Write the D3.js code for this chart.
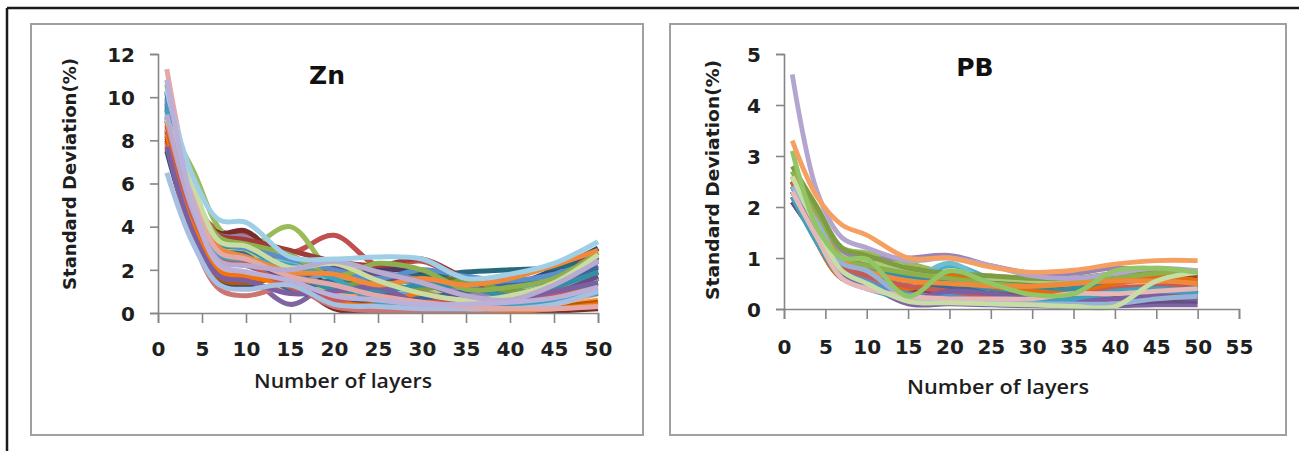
<!DOCTYPE html>
<html>
<head>
<meta charset="utf-8">
<script src="https://cdn.jsdelivr.net/npm/d3@7"></script>
<style>
  body { margin: 0; background: #fff; }
  svg { display: block; }
</style>
</head>
<body>
<svg id="chart" width="1299" height="451"></svg>
<script>
// layers where each run was sampled
const layers = [1, 4, 7, 10, 15, 20, 25, 30, 35, 40, 45, 50]

// Zn standard deviation (%) per run
const znSeries = [
  [10.3, 5.0, 2.2, 1.8, 1.3, 1.0, 0.8, 1.0, 0.7, 0.9, 1.6, 2.4],
  [7.8, 5.0, 3.8, 3.6, 2.8, 3.6, 2.2, 2.4, 1.5, 1.1, 1.7, 3.0],
  [8.8, 6.6, 3.9, 3.0, 4.0, 1.8, 1.3, 1.0, 0.7, 0.6, 0.9, 1.4],
  [8.5, 4.2, 2.0, 1.8, 0.4, 1.4, 0.7, 0.5, 0.3, 0.2, 0.5, 1.6],
  [9.0, 4.8, 3.1, 2.9, 2.0, 1.2, 1.6, 1.3, 0.8, 1.0, 1.5, 2.0],
  [7.6, 4.0, 1.8, 1.6, 1.8, 0.8, 0.5, 0.7, 0.4, 0.2, 0.3, 0.6],
  [7.5, 3.6, 1.4, 1.3, 1.0, 0.7, 0.5, 0.6, 0.5, 1.2, 2.0, 3.0],
  [8.2, 4.8, 3.7, 3.8, 1.8, 0.2, 0.1, 0.1, 0.1, 0.1, 0.1, 0.2],
  [9.5, 5.2, 3.4, 3.3, 2.2, 1.4, 1.5, 1.8, 1.4, 1.0, 1.2, 1.6],
  [8.4, 4.6, 3.0, 2.8, 1.5, 1.8, 2.0, 1.9, 0.9, 0.6, 1.0, 1.9],
  [9.1, 5.0, 2.8, 2.5, 2.2, 2.0, 1.8, 1.7, 1.9, 2.0, 2.1, 2.4],
  [8.0, 3.8, 1.6, 1.4, 1.6, 0.6, 0.3, 0.6, 0.3, 0.2, 0.3, 0.5],
  [9.6, 5.4, 2.9, 2.6, 1.4, 1.9, 1.2, 0.9, 1.1, 1.4, 1.7, 2.2],
  [7.9, 3.4, 1.1, 0.8, 1.2, 0.3, 0.1, 0.1, 0.1, 0.1, 0.2, 0.3],
  [9.3, 5.8, 3.0, 2.8, 2.0, 1.0, 0.9, 1.2, 0.6, 0.9, 1.3, 1.8],
  [9.8, 5.2, 3.6, 3.5, 2.3, 2.0, 1.9, 1.5, 1.0, 0.8, 1.3, 2.2],
  [10.0, 5.6, 2.6, 2.3, 2.4, 1.5, 1.1, 1.2, 1.3, 0.9, 1.1, 1.6],
  [8.6, 4.3, 2.1, 1.9, 1.1, 0.9, 0.6, 0.3, 0.2, 0.2, 0.4, 0.9],
  [10.2, 4.9, 2.9, 2.7, 1.1, 1.5, 0.9, 0.7, 1.0, 1.3, 1.5, 2.1],
  [8.1, 5.1, 3.6, 3.4, 2.9, 2.4, 2.2, 2.5, 1.6, 0.9, 1.4, 2.6],
  [9.4, 5.3, 2.7, 2.4, 1.8, 1.3, 1.4, 1.1, 1.5, 1.0, 1.1, 1.3],
  [8.9, 4.4, 2.4, 2.2, 1.6, 2.1, 1.7, 1.4, 0.7, 0.5, 0.9, 1.7],
  [9.7, 5.1, 3.2, 3.0, 1.9, 1.1, 1.0, 1.3, 1.2, 0.8, 1.2, 1.9],
  [8.3, 4.1, 1.9, 1.7, 1.3, 0.5, 0.4, 0.9, 0.3, 0.1, 0.2, 0.4],
  [9.9, 5.3, 3.3, 3.0, 2.5, 2.0, 1.6, 2.0, 1.7, 1.5, 1.8, 2.5],
  [8.7, 4.5, 2.5, 2.3, 1.2, 0.6, 0.8, 0.5, 0.6, 0.4, 0.8, 1.1],
  [10.6, 5.7, 3.5, 3.2, 2.7, 1.7, 2.3, 2.0, 1.1, 1.2, 1.6, 2.8],
  [7.7, 3.7, 1.7, 1.5, 0.9, 1.0, 1.2, 0.4, 0.3, 0.6, 1.0, 1.4],
  [9.4, 5.0, 2.7, 2.5, 2.2, 1.6, 0.5, 0.3, 0.2, 0.3, 0.6, 0.9],
  [8.9, 4.9, 3.0, 2.6, 1.9, 1.8, 1.3, 1.6, 1.3, 1.6, 2.2, 2.9],
  [6.5, 3.2, 1.3, 1.1, 1.3, 0.4, 0.3, 0.2, 0.2, 0.2, 0.4, 1.0],
  [11.3, 5.5, 2.8, 2.5, 1.7, 1.3, 0.8, 0.5, 0.3, 0.2, 0.2, 0.3],
  [9.0, 5.9, 3.3, 3.1, 2.1, 2.3, 1.5, 0.9, 0.6, 0.8, 1.4, 2.7],
  [9.2, 4.7, 2.4, 2.2, 2.0, 2.4, 1.9, 1.4, 0.8, 0.6, 1.3, 2.4],
  [10.3, 6.3, 4.3, 4.2, 2.6, 2.5, 2.6, 2.5, 1.6, 1.8, 2.3, 3.3],
  [10.8, 5.0, 2.2, 1.9, 1.5, 0.8, 0.6, 0.4, 0.4, 0.5, 0.7, 1.2]
]

// PB standard deviation (%) per run
const pbSeries = [
  [2.3, 1.6, 0.9, 0.6, 0.45, 0.5, 0.35, 0.3, 0.25, 0.35, 0.45, 0.4],
  [2.4, 1.5, 0.75, 0.55, 0.4, 0.45, 0.3, 0.25, 0.35, 0.55, 0.62, 0.55],
  [2.6, 1.9, 1.2, 1.1, 0.9, 0.7, 0.65, 0.6, 0.55, 0.6, 0.7, 0.7],
  [2.2, 1.5, 0.8, 0.5, 0.1, 0.1, 0.08, 0.06, 0.05, 0.06, 0.08, 0.08],
  [2.5, 1.7, 0.9, 0.6, 0.5, 0.85, 0.6, 0.4, 0.3, 0.3, 0.4, 0.45],
  [2.3, 1.4, 0.65, 0.55, 0.35, 0.6, 0.5, 0.3, 0.3, 0.45, 0.55, 0.6],
  [2.2, 1.6, 0.9, 0.7, 0.3, 0.3, 0.25, 0.2, 0.2, 0.35, 0.3, 0.25],
  [2.1, 1.4, 0.75, 0.6, 0.3, 0.2, 0.15, 0.15, 0.3, 0.5, 0.6, 0.5],
  [2.4, 1.8, 1.05, 0.9, 0.8, 0.65, 0.55, 0.5, 0.45, 0.6, 0.65, 0.65],
  [2.3, 1.6, 0.85, 0.7, 0.4, 0.35, 0.3, 0.25, 0.3, 0.4, 0.5, 0.55],
  [2.2, 1.6, 0.9, 0.65, 0.5, 0.4, 0.35, 0.3, 0.35, 0.45, 0.55, 0.3],
  [2.5, 1.3, 0.6, 0.5, 0.3, 0.25, 0.2, 0.2, 0.2, 0.25, 0.3, 0.35],
  [2.6, 1.8, 1.0, 0.8, 0.6, 0.55, 0.45, 0.4, 0.45, 0.4, 0.5, 0.6],
  [2.3, 1.5, 0.75, 0.5, 0.3, 0.3, 0.35, 0.4, 0.45, 0.5, 0.45, 0.3],
  [2.7, 1.9, 1.1, 0.95, 0.75, 0.65, 0.6, 0.55, 0.5, 0.55, 0.6, 0.6],
  [2.5, 1.9, 1.15, 1.0, 1.0, 1.05, 0.85, 0.7, 0.7, 0.8, 0.75, 0.7],
  [2.4, 1.7, 0.9, 0.7, 0.55, 0.9, 0.5, 0.35, 0.3, 0.35, 0.45, 0.5],
  [2.6, 1.5, 0.75, 0.6, 0.45, 0.6, 0.4, 0.3, 0.3, 0.4, 0.5, 0.45],
  [2.3, 1.6, 0.85, 0.65, 0.35, 0.45, 0.3, 0.25, 0.25, 0.3, 0.35, 0.35],
  [2.2, 1.4, 0.7, 0.5, 0.35, 0.3, 0.3, 0.35, 0.4, 0.55, 0.7, 0.65],
  [2.8, 2.0, 1.2, 1.05, 0.8, 0.7, 0.65, 0.6, 0.6, 0.7, 0.75, 0.7],
  [2.1, 1.4, 0.7, 0.45, 0.2, 0.2, 0.15, 0.15, 0.1, 0.1, 0.15, 0.15],
  [2.4, 1.7, 0.95, 0.8, 0.65, 0.55, 0.4, 0.35, 0.4, 0.55, 0.6, 0.4],
  [2.5, 1.3, 0.6, 0.55, 0.4, 0.65, 0.45, 0.35, 0.3, 0.5, 0.65, 0.55],
  [2.4, 1.5, 0.8, 0.55, 0.3, 0.25, 0.2, 0.15, 0.2, 0.3, 0.35, 0.3],
  [2.5, 1.6, 0.85, 0.65, 0.45, 0.35, 0.25, 0.2, 0.25, 0.4, 0.45, 0.5],
  [2.3, 1.5, 0.7, 0.45, 0.2, 0.35, 0.3, 0.2, 0.15, 0.2, 0.25, 0.2],
  [2.7, 1.8, 1.0, 0.85, 0.7, 0.6, 0.5, 0.45, 0.5, 0.6, 0.7, 0.75],
  [2.2, 1.3, 0.6, 0.4, 0.2, 0.15, 0.1, 0.12, 0.2, 0.35, 0.4, 0.35],
  [2.6, 1.7, 0.95, 0.75, 0.55, 0.5, 0.45, 0.45, 0.5, 0.55, 0.55, 0.5],
  [2.4, 1.7, 0.9, 0.75, 0.2, 0.15, 0.12, 0.1, 0.1, 0.1, 0.2, 0.25],
  [2.3, 1.4, 0.6, 0.4, 0.25, 0.2, 0.2, 0.2, 0.3, 0.3, 0.35, 0.4],
  [4.6, 2.3, 1.4, 1.2, 0.95, 1.0, 0.85, 0.65, 0.6, 0.7, 0.8, 0.75],
  [2.6, 1.6, 0.75, 0.5, 0.15, 0.12, 0.1, 0.08, 0.05, 0.05, 0.55, 0.72],
  [3.1, 1.6, 1.0, 0.98, 0.25, 0.75, 0.5, 0.28, 0.3, 0.75, 0.8, 0.72],
  [3.3, 2.2, 1.65, 1.45, 1.0, 1.0, 0.82, 0.72, 0.76, 0.88, 0.95, 0.95]
]

const znTicksY = [0, 2, 4, 6, 8, 10, 12]
const znTicksX = [0, 5, 10, 15, 20, 25, 30, 35, 40, 45, 50]
const pbTicksY = [0, 1, 2, 3, 4, 5]
const pbTicksX = [0, 5, 10, 15, 20, 25, 30, 35, 40, 45, 50, 55]

// office style series colours, later (lighter) ones drawn on top
const znColors = ['#4F81BD', '#C0504D', '#9BBB59', '#8064A2', '#4BACC6', '#F79646',
  '#2C4D75', '#772C2A', '#5F7530', '#4D3B62', '#276A7C', '#B65708',
  '#729ACA', '#CD7371', '#AFC97A', '#9983B5', '#6FBDD1', '#F9AB6B',
  '#3A679C', '#9F3B38', '#7E9C40', '#664F83', '#358EA6', '#F3740B',
  '#5B8FC9', '#C65A57', '#8DB04E', '#7B5FA0', '#3FA2BD', '#F08A3A',
  '#A7BFE0', '#E2A9A8', '#C9DCA4', '#B9AAD0', '#9FCFE6', '#BBB0D9']
const pbColors = ['#4F81BD', '#C0504D', '#9BBB59', '#8064A2', '#4BACC6', '#F79646',
  '#2C4D75', '#772C2A', '#5F7530', '#4D3B62', '#276A7C', '#B65708',
  '#729ACA', '#CD7371', '#AFC97A', '#9983B5', '#6FBDD1', '#F9AB6B',
  '#3A679C', '#9F3B38', '#7E9C40', '#664F83', '#358EA6', '#E46C0A',
  '#5B8FC9', '#C65A57', '#7B5FA0', '#8DB04E', '#3FA2BD', '#F08A3A',
  '#95B3D7', '#E6B9B8', '#B3A5CF', '#C6DEA6', '#92C565', '#F5A062']

const svg = d3.select('#chart')

// outer frame of the figure
svg.append('line').attr('x1', 7).attr('y1', 8).attr('x2', 1299).attr('y2', 8)
  .attr('stroke', '#1a1a1a').attr('stroke-width', 2.5)
svg.append('line').attr('x1', 7).attr('y1', 8).attr('x2', 7).attr('y2', 451)
  .attr('stroke', '#1a1a1a').attr('stroke-width', 2.5)

function drawPanel(cfg) {
  const g = svg.append('g')

  g.append('rect')
    .attr('x', cfg.box[0]).attr('y', cfg.box[1])
    .attr('width', cfg.box[2]).attr('height', cfg.box[3])
    .attr('fill', '#fff')
    .attr('stroke', '#a0a0a0')
    .attr('stroke-width', 2)

  const x = d3.scaleLinear().domain(cfg.xDomain).range(cfg.xRange)
  const y = d3.scaleLinear().domain(cfg.yDomain).range(cfg.yRange)

  const line = d3.line()
    .x((d, i) => x(layers[i]))
    .y(d => y(d))
    .curve(d3.curveCatmullRom.alpha(0.5))

  g.append('g').selectAll('path')
    .data(cfg.series)
    .enter()
    .append('path')
    .attr('d', line)
    .attr('fill', 'none')
    .attr('stroke', (d, i) => cfg.colors[i % cfg.colors.length])
    .attr('stroke-width', cfg.lineWidth)
    .attr('stroke-linejoin', 'round')

  const yAxis = d3.axisLeft(y).tickValues(cfg.yTicks).tickFormat(d3.format('d'))
    .tickSize(8).tickPadding(cfg.yPad)
  const xAxis = d3.axisBottom(x).tickValues(cfg.xTicks).tickFormat(d3.format('d'))
    .tickSize(10).tickPadding(cfg.xPad)

  const ya = g.append('g').attr('transform', `translate(${cfg.xRange[0]},0)`).call(yAxis)
  const xa = g.append('g').attr('transform', `translate(0,${cfg.yRange[0]})`).call(xAxis)

  ;[ya, xa].forEach(a => {
    a.select('.domain').attr('stroke', '#868686').attr('stroke-width', 1.6)
    a.selectAll('.tick line').attr('stroke', '#868686').attr('stroke-width', 1.6)
    a.selectAll('.tick text')
      .attr('fill', '#1e1e1e')
      .style('font-family', 'DejaVu Sans')
      .style('font-weight', 'bold')
      .style('font-size', '20px')
  })
  ya.selectAll('.tick text').attr('dy', '0.36em')

  g.append('text')
    .attr('x', cfg.title[0]).attr('y', cfg.title[1])
    .attr('text-anchor', 'middle')
    .style('font-family', 'DejaVu Sans')
    .style('font-weight', 'bold')
    .style('font-size', '25px')
    .attr('fill', '#111')
    .text(cfg.name)

  g.append('text')
    .attr('x', cfg.xTitle[0]).attr('y', cfg.xTitle[1])
    .attr('text-anchor', 'middle')
    .attr('textLength', cfg.xTitle[2])
    .attr('lengthAdjust', 'spacingAndGlyphs')
    .style('font-family', 'Open Sans')
    .style('font-weight', '600')
    .style('font-size', '19px')
    .attr('fill', '#1e1e1e')
    .text('Number of layers')

  g.append('text')
    .attr('transform', `translate(${cfg.yTitle[0]},${cfg.yTitle[1]}) rotate(-90)`)
    .attr('text-anchor', 'middle')
    .attr('textLength', cfg.yTitle[2])
    .attr('lengthAdjust', 'spacingAndGlyphs')
    .style('font-family', 'DejaVu Sans')
    .style('font-weight', 'bold')
    .style('font-size', '17px')
    .attr('fill', '#1e1e1e')
    .text('Standard Deviation(%)')
}

drawPanel({
  name: 'Zn',
  box: [31, 24, 612, 411],
  series: znSeries,
  colors: znColors,
  lineWidth: 5,
  xDomain: [0, 50], xRange: [158, 598],
  yDomain: [0, 12], yRange: [313, 54],
  xTicks: znTicksX, yTicks: znTicksY,
  xPad: 19, yPad: 15,
  title: [327, 84],
  xTitle: [343, 388, 178],
  yTitle: [76, 174, 232]
})

drawPanel({
  name: 'PB',
  box: [670, 24, 616, 411],
  series: pbSeries,
  colors: pbColors,
  lineWidth: 4.8,
  xDomain: [0, 55], xRange: [784, 1239],
  yDomain: [0, 5], yRange: [309, 54],
  xTicks: pbTicksX, yTicks: pbTicksY,
  xPad: 21, yPad: 15,
  title: [975, 76],
  xTitle: [998, 394, 182],
  yTitle: [719, 180, 240]
})
</script>
</body>
</html>
